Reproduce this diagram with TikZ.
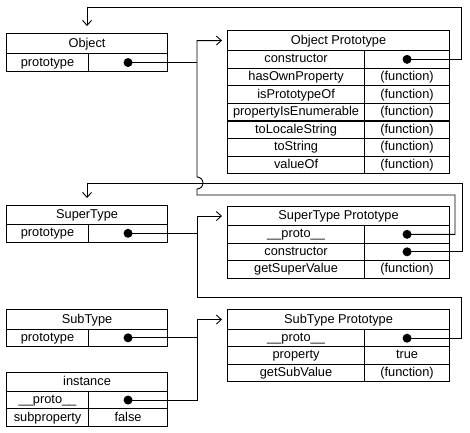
\documentclass[tikz,border=0pt]{standalone}
\usepackage{fontspec}
\setmainfont{Liberation Sans}
\usetikzlibrary{arrows.meta}
\begin{document}
\begin{tikzpicture}[x=1pt,y=-1pt,
 cell/.style={draw, line width=1.1pt, inner sep=0pt, anchor=north west,
   font=\fontsize{12.8}{15}\selectfont, text height=9.5pt, text depth=2.6pt},
 dotn/.style={circle, fill, inner sep=0pt, minimum size=9pt},
 conn/.style={line width=0.9pt},
 arr/.style={conn, -{Straight Barb[length=5pt,width=9pt]}}]
\useasboundingbox (0,0) rectangle (470,432);
\coordinate (vx) at (197,0);

% Object
\node[cell, minimum width=161pt, minimum height=20pt] (objh) at (6,33) {Object};
\node[cell, minimum width=82pt, minimum height=18pt] (objk) at (6,53) {prototype};
\node[cell, minimum width=79pt, minimum height=18pt] (objv) at (88,53) {};

% Object Prototype
\node[cell, minimum width=222pt, minimum height=20pt] (oph) at (227,30) {Object Prototype};
\foreach [count=\i from 0] \k/\v in {constructor/{}, hasOwnProperty/(function), isPrototypeOf/(function), propertyIsEnumerable/(function), toLocaleString/(function), toString/(function), valueOf/(function)} {
  \node[cell, minimum width=137pt, minimum height=17.6pt] (opk\i) at (227,{50+17.6*\i}) {\k};
  \node[cell, minimum width=85pt, minimum height=17.6pt] (opv\i) at (364,{50+17.6*\i}) {\v};
}

% SuperType
\node[cell, minimum width=161pt, minimum height=19pt] (sth) at (6,205) {SuperType};
\node[cell, minimum width=82pt, minimum height=17.5pt] (stk) at (6,224) {prototype};
\node[cell, minimum width=79pt, minimum height=17.5pt] (stv) at (88,224) {};

% SuperType Prototype
\node[cell, minimum width=222pt, minimum height=19pt] (stph) at (227,206) {SuperType Prototype};
\foreach [count=\i from 0] \k/\v in {\_\_proto\_\_/{}, constructor/{}, getSuperValue/(function)} {
  \node[cell, minimum width=137pt, minimum height=17.5pt] (stpk\i) at (227,{225+17.5*\i}) {\k};
  \node[cell, minimum width=85pt, minimum height=17.5pt] (stpv\i) at (364,{225+17.5*\i}) {\v};
}

% SubType
\node[cell, minimum width=161pt, minimum height=20pt] (sbh) at (6,309) {SubType};
\node[cell, minimum width=82pt, minimum height=16.5pt] (sbk) at (6,329) {prototype};
\node[cell, minimum width=79pt, minimum height=16.5pt] (sbv) at (88,329) {};

% instance
\node[cell, minimum width=161pt, minimum height=19pt] (insh) at (6,372) {instance};
\node[cell, minimum width=82pt, minimum height=17pt] (insk0) at (6,391) {\_\_proto\_\_};
\node[cell, minimum width=79pt, minimum height=17pt] (insv0) at (88,391) {};
\node[cell, minimum width=82pt, minimum height=18pt] (insk1) at (6,408) {subproperty};
\node[cell, minimum width=79pt, minimum height=18pt] (insv1) at (88,408) {false};

% SubType Prototype
\node[cell, minimum width=222pt, minimum height=20pt] (sbph) at (227,309) {SubType Prototype};
\foreach [count=\i from 0] \k/\v in {\_\_proto\_\_/{}, property/true, getSubValue/(function)} {
  \node[cell, minimum width=137pt, minimum height=17.3pt] (sbpk\i) at (227,{329+17.3*\i}) {\k};
  \node[cell, minimum width=85pt, minimum height=17.3pt] (sbpv\i) at (364,{329+17.3*\i}) {\v};
}

% dots
\node[dotn] (od) at (objv.center) {};
\node[dotn] (opd) at (opv0.center) {};
\node[dotn] (sd) at (stv.center) {};
\node[dotn] (stpd0) at (stpv0.center) {};
\node[dotn] (stpd1) at (stpv1.center) {};
\node[dotn] (sbd) at (sbv.center) {};
\node[dotn] (insd) at (insv0.center) {};
\node[dotn] (sbpd) at (sbpv0.center) {};

% turning points
\coordinate (t1) at (461,7);
\coordinate (t2) at (462,183);
\coordinate (t3) at (455,195);
\coordinate (t4) at (461,297);

% Object Prototype.constructor -> Object
\draw[arr, shorten >=7pt] (opd.center) -| (t1) -| (objh.north);
% SuperType Prototype.constructor -> SuperType
\draw[arr, shorten >=7pt] (stpd1.center) -| (t2) -| (sth.north);
% Object.prototype -> Object Prototype
\draw[conn] (od.center) -- (od.center -| vx);
% SuperType Prototype.__proto__ -> Object Prototype (with hop)
\draw[arr, shorten >=5pt] (stpd0.center) -| (t3) -- (t3 -| vx) -- ([yshift=-6pt]t2 -| vx)
   arc[start angle=-90, end angle=90, radius=6pt] |- (oph.west);
% SuperType.prototype -> SuperType Prototype
\draw[conn] (sd.center) -- (sd.center -| vx);
\draw[arr, shorten >=5pt] (sbpd.center) -| (t4) -- (t4 -| vx) |- (stph.west);
% SubType.prototype / instance.__proto__ -> SubType Prototype
\draw[conn] (sbd.center) -- (sbd.center -| vx);
\draw[arr, shorten >=5pt] (insd.center) -- (insd.center -| vx) |- (sbph.west);
\end{tikzpicture}
\end{document}
